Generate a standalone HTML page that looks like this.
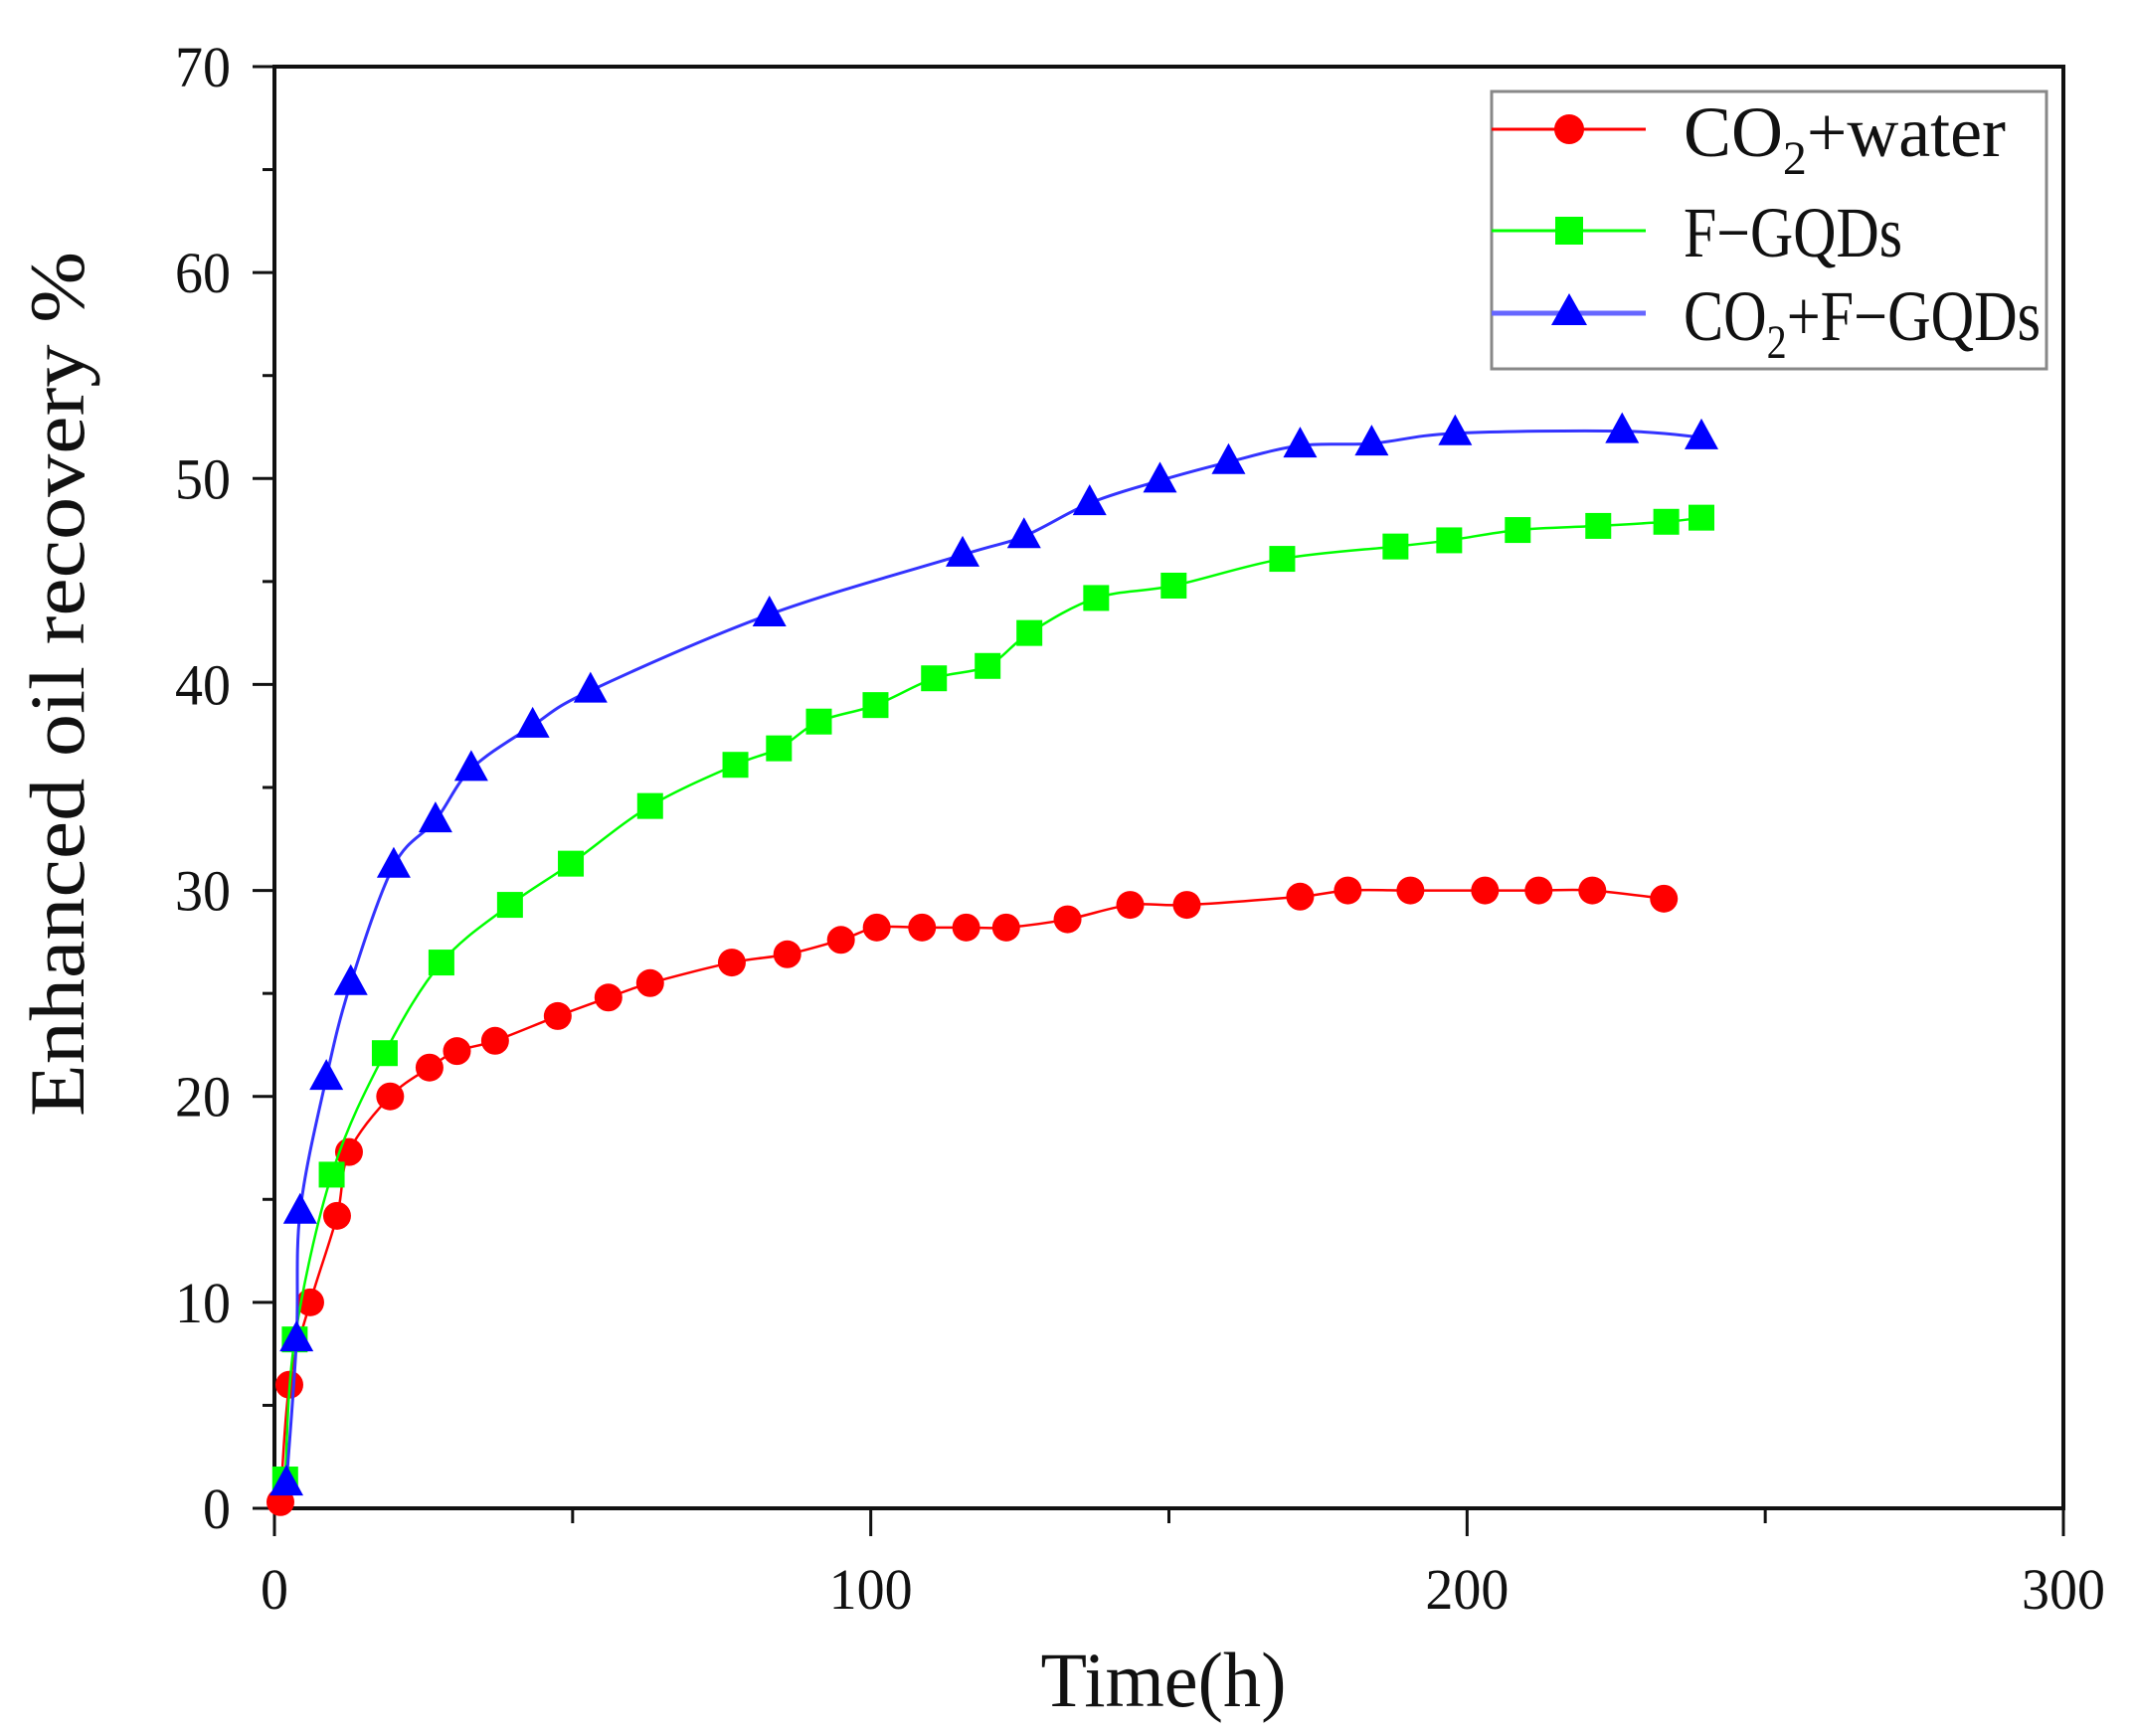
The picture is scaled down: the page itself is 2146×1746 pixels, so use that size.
<!DOCTYPE html>
<html><head><meta charset="utf-8"><style>
html,body{margin:0;padding:0;background:#fff;}
svg{display:block;}
text{font-family:"Liberation Serif",serif;fill:#111;}
</style></head><body>
<svg id="chart" width="2146" height="1746" viewBox="0 0 2146 1746" xmlns="http://www.w3.org/2000/svg">
<g id="axes"></g>
<g id="series"></g>
<g id="legend">
  <rect x="1500" y="92" width="558" height="279" fill="#fff" stroke="#888" stroke-width="3"/>
  <line x1="1500" y1="130" x2="1655" y2="130" stroke="#f00" stroke-width="3"/>
  <circle cx="1578" cy="130" r="15" fill="#f00"/>
  <text x="1693" y="157" font-size="72" textLength="324" lengthAdjust="spacingAndGlyphs">CO<tspan font-size="48" dy="18">2</tspan><tspan dy="-18">+water</tspan></text>
  <line x1="1500" y1="232" x2="1655" y2="232" stroke="#0f0" stroke-width="3"/>
  <rect x="1564" y="218" width="28" height="28" fill="#0f0"/>
  <text x="1693" y="258" font-size="72" textLength="220" lengthAdjust="spacingAndGlyphs">F−GQDs</text>
  <line x1="1500" y1="315" x2="1655" y2="315" stroke="#6666ff" stroke-width="5"/>
  <polygon points="1578,295 1596,327 1560,327" fill="#00f"/>
  <text x="1693" y="342" font-size="72" textLength="359" lengthAdjust="spacingAndGlyphs">CO<tspan font-size="48" dy="18">2</tspan><tspan dy="-18">+F−GQDs</tspan></text>
</g>
</svg>
<script>
const xTicks = [0, 100, 200, 300];
const yTicks = [0, 10, 20, 30, 40, 50, 60, 70];
const waterT = [1, 2.5, 6, 10.5, 12.5, 19.4, 26, 30.6, 37, 47.5, 56, 63, 76.7, 86, 95, 101, 108.6, 116, 122.7, 133, 143.5, 153, 172, 180, 190.5, 203, 212, 221, 233];
const waterV = [0.3, 6, 10, 14.2, 17.3, 20, 21.4, 22.2, 22.7, 23.9, 24.8, 25.5, 26.5, 26.9, 27.6, 28.2, 28.2, 28.2, 28.2, 28.6, 29.3, 29.3, 29.7, 30, 30, 30, 30, 30, 29.6];
const fgqdT = [1.8, 3.4, 9.6, 18.5, 28, 39.5, 49.7, 63, 77.3, 84.6, 91.3, 100.8, 110.6, 119.6, 126.6, 137.8, 150.8, 169, 188, 197, 208.5, 222, 233.4, 239.3];
const fgqdV = [1.4, 8.2, 16.2, 22.1, 26.5, 29.3, 31.3, 34.1, 36.1, 36.9, 38.2, 39, 40.3, 40.9, 42.5, 44.2, 44.8, 46.1, 46.7, 47, 47.5, 47.7, 47.9, 48.1];
const co2fT = [2, 3.7, 4.3, 8.7, 12.8, 20, 27, 33, 43.3, 53, 83, 115.4, 125.7, 136.7, 148.5, 160, 172, 184, 198, 226, 239.3];
const co2fV = [1.2, 8.2, 14.4, 20.9, 25.5, 31.2, 33.4, 35.9, 38, 39.7, 43.4, 46.3, 47.2, 48.8, 49.9, 50.8, 51.6, 51.7, 52.2, 52.3, 52];

const X0 = 276, X1 = 2075, Y0 = 1517, Y1 = 67;
const xs = t => X0 + t / 300 * (X1 - X0);
const ys = v => Y0 - v / 70 * (Y0 - Y1);
const NS = 'http://www.w3.org/2000/svg';
const axes = document.getElementById('axes');
const series = document.getElementById('series');
function mk(tag, parent, attrs) {
  const e = document.createElementNS(NS, tag);
  for (const k in attrs) e.setAttribute(k, attrs[k]);
  parent.appendChild(e);
  return e;
}
// frame
const frame = mk('rect', axes, {x: X0, y: Y1, width: X1 - X0, height: Y0 - Y1, fill: 'none', stroke: '#111', 'stroke-width': 4});


// x ticks
for (let t = 0; t <= 300; t += 50) {
  const major = t % 100 === 0;
  const l = mk('line', axes, {x1: xs(t), x2: xs(t), y1: Y0, y2: Y0 + (major ? 28 : 15), stroke: '#111', 'stroke-width': 3});
  
  
}
xTicks.forEach(t => {
  const tx = mk('text', axes, {x: xs(t), y: 1618, 'font-size': 58, 'text-anchor': 'middle', textLength: 28 * String(t).length, lengthAdjust: 'spacingAndGlyphs'});
  tx.textContent = t;
  
  
});
// y ticks
for (let v = 0; v <= 70; v += 5) {
  const major = v % 10 === 0;
  const l = mk('line', axes, {x1: X0 - (major ? 22 : 12), x2: X0, y1: ys(v), y2: ys(v), stroke: '#111', 'stroke-width': 3});
  
  
}
yTicks.forEach(v => {
  const tx = mk('text', axes, {x: 232, y: ys(v) + 20, 'font-size': 58, 'text-anchor': 'end', textLength: 28 * String(v).length, lengthAdjust: 'spacingAndGlyphs'});
  tx.textContent = v;
  
  
});
const xt = mk('text', axes, {x: 1170, y: 1716, 'font-size': 78, 'text-anchor': 'middle', textLength: 247, lengthAdjust: 'spacingAndGlyphs'});
xt.textContent = 'Time(h)';


const yt = mk('text', axes, {x: 0, y: 0, 'font-size': 78, 'text-anchor': 'middle', textLength: 870, lengthAdjust: 'spacingAndGlyphs', transform: 'translate(84,688) rotate(-90)'});
yt.textContent = 'Enhanced oil recovery %';



function smoothPath(T, V) {
  const p = T.map((t, i) => [xs(t), ys(V[i])]);
  let d = 'M' + p[0][0] + ',' + p[0][1];
  for (let i = 0; i < p.length - 1; i++) {
    const a = p[Math.max(0, i - 1)], b = p[i], c = p[i + 1], e = p[Math.min(p.length - 1, i + 2)];
    const c1 = [b[0] + (c[0] - a[0]) / 6, b[1] + (c[1] - a[1]) / 6];
    const c2 = [c[0] - (e[0] - b[0]) / 6, c[1] - (e[1] - b[1]) / 6];
    d += ' C' + c1.join(',') + ' ' + c2.join(',') + ' ' + c.join(',');
  }
  return d;
}
function drawSeries(T, V, color, lineColor, lw, shape, name) {
  const g = mk('g', series, {});
  
  
  const path = mk('path', g, {d: smoothPath(T, V), fill: 'none', stroke: lineColor, 'stroke-width': lw});
  
  
  T.forEach((t, i) => {
    const x = xs(t), y = ys(V[i]);
    let m;
    if (shape === 'circle') m = mk('circle', g, {cx: x, cy: y, r: 14, fill: color});
    else if (shape === 'square') m = mk('rect', g, {x: x - 13, y: y - 13, width: 26, height: 26, fill: color});
    else m = mk('polygon', g, {points: `${x},${y - 19} ${x + 17},${y + 12} ${x - 17},${y + 12}`, fill: color});
    
    
  });
}
drawSeries(waterT, waterV, '#f00', '#f00', 2.5, 'circle', 'co2-water');
drawSeries(fgqdT, fgqdV, '#0f0', '#0f0', 2.5, 'square', 'f-gqds');
drawSeries(co2fT, co2fV, '#00f', '#3333ff', 3, 'triangle', 'co2-f-gqds');
</script>
</body></html>
